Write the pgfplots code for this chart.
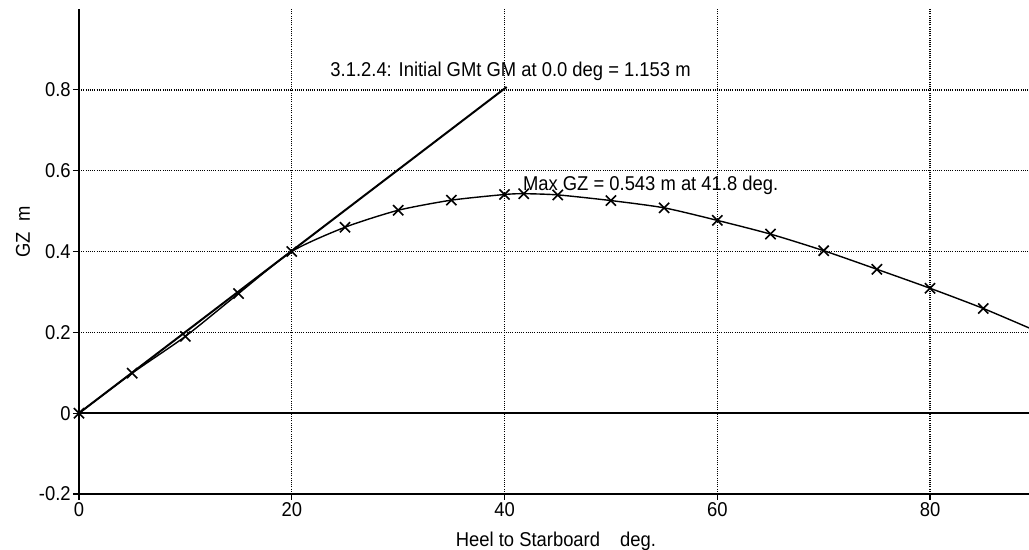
\documentclass[border=0pt]{standalone}
\usepackage{fontspec}
\setmainfont{Liberation Sans}[FakeStretch=0.92]
\usepackage{pgfplots}
\pgfplotsset{compat=1.18}

% GZ curve, heel (deg) vs GZ (m)
\pgfplotstableread{
x y
0 0
5 0.099
10 0.190
15 0.296
20 0.400
25 0.460
30 0.502
35 0.527
40 0.541
41.8 0.543
45 0.540
50 0.526
55 0.508
60 0.477
65 0.443
70 0.402
75 0.356
80 0.309
85 0.259
90 0.203
}\gzdata

\pgfplotstableread{
x y
0 0
5 0.099
10 0.190
15 0.296
20 0.400
25 0.460
30 0.502
35 0.527
40 0.541
41.8 0.543
45 0.540
50 0.526
55 0.508
60 0.477
65 0.443
70 0.402
75 0.356
80 0.309
85 0.259
}\gzmarks

\begin{document}
\begin{tikzpicture}
\useasboundingbox (-39.5pt,-28pt) rectangle (475pt,247pt);
\begin{axis}[
  scale only axis, width=475pt, height=242.5pt,
  xmin=0, xmax=89.3, ymin=-0.2, ymax=1.0,
  axis lines*=left,
  axis line style={line width=1pt},
  tick align=outside, major tick length=3pt,
  tick style={black, line width=0.6pt},
  xtick={0,20,40,60,80}, xticklabels={0,20,40,60,80},
  ytick={-0.2,0,0.2,0.4,0.6,0.8}, yticklabels={-0.2,0,0.2,0.4,0.6,0.8},
  grid=major,
  major grid style={black, line width=0.7pt, dash pattern=on 0.5pt off 0.6pt},
  tick label style={font=\normalsize},
  yticklabel style={inner sep=1pt},
  xticklabel style={inner sep=1pt},
  xlabel={Heel to Starboard\quad deg.},
  ylabel={GZ\enspace m},
  xlabel style={at={(axis description cs:0.502,-0.109)}, anchor=base},
  ylabel style={at={(axis description cs:-0.059,0.54)}, anchor=center},
  clip=true,
]
% zero line
\addplot[black, line width=0.9pt, forget plot] coordinates {(0,0)(89.3,0)};
% initial GM line
\addplot[black, line width=1pt] coordinates {(0,0)(40.2,0.807)};
% GZ curve
\addplot[black, line width=0.7pt, smooth, tension=0.4] table[x=x,y=y] {\gzdata};
\addplot[only marks, mark=x, mark size=3.6pt, mark options={line width=0.8pt, black}] table[x=x,y=y] {\gzmarks};
\node[anchor=base west, inner sep=0pt] at (axis cs:23.6,0.832) {3.1.2.4: Initial GMt GM at 0.0 deg = 1.153 m};
\node[anchor=base west, inner sep=0pt] at (axis cs:41.7,0.552) {Max GZ = 0.543 m at 41.8 deg.};
\end{axis}
\end{tikzpicture}
\end{document}
